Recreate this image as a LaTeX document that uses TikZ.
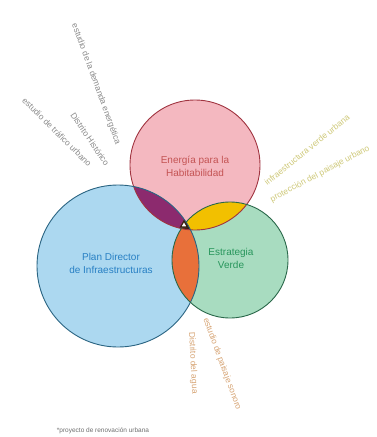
\documentclass[tikz,border=0pt]{standalone}
\usepackage{fontspec}
\setmainfont{Liberation Sans}
\definecolor{enfill}{RGB}{244,184,192}
\definecolor{enline}{RGB}{160,52,64}
\definecolor{entext}{RGB}{196,84,84}
\definecolor{pdfill}{RGB}{172,216,240}
\definecolor{pdline}{RGB}{42,100,130}
\definecolor{pdtext}{RGB}{40,128,196}
\definecolor{evfill}{RGB}{168,220,192}
\definecolor{evline}{RGB}{42,104,74}
\definecolor{evtext}{RGB}{40,150,92}
\definecolor{lensEP}{RGB}{140,42,110}
\definecolor{lensEV}{RGB}{242,192,0}
\definecolor{lensPV}{RGB}{232,112,58}
\definecolor{lensAll}{RGB}{58,32,16}
\definecolor{notegray}{RGB}{138,138,138}
\definecolor{noteyellow}{RGB}{206,200,120}
\definecolor{notetan}{RGB}{214,164,116}
\usetikzlibrary{shapes.geometric}

\begin{document}
\begin{tikzpicture}[
  x=1pt,y=1pt,
  setlbl/.style={font=\fontsize{10}{13}\selectfont,align=center},
  note/.style={font=\fontsize{8.5}{10}\selectfont,inner sep=0pt},
  ring/.style={line width=0.9pt}
]
  \useasboundingbox (0,0) rectangle (377,-437);
  \coordinate (cE) at (195,-165);
  \coordinate (cP) at (118,-266);
  \coordinate (cV) at (230,-260);
  % Sets
  \fill[enfill] (cE) circle[radius=65];
  \fill[pdfill] (cP) circle[radius=81];
  \fill[evfill] (cV) circle[radius=58];
  % Overlaps
  \begin{scope}
    \clip (cE) circle[radius=65];
    \fill[lensEP] (cP) circle[radius=81];
    \fill[lensEV] (cV) circle[radius=58];
  \end{scope}
  \begin{scope}
    \clip (cP) circle[radius=81];
    \fill[lensPV] (cV) circle[radius=58];
    \clip (cV) circle[radius=58];
    \fill[lensAll] (cE) circle[radius=65];
  \end{scope}
  \draw[ring,enline] (cE) circle[radius=65];
  \draw[ring,pdline] (cP) circle[radius=81];
  \draw[ring,evline] (cV) circle[radius=58];
  \node[regular polygon,regular polygon sides=3,draw=lensAll,fill=white,
    line width=1.2pt,minimum size=8pt,inner sep=0pt] (tri) at (184,-225) {};
  % Labels
  \node[setlbl,entext] (energia) at (195,-166) {Energía para la\\Habitabilidad};
  \node[setlbl,pdtext] (plan) at (111,-263) {Plan Director\\de Infraestructuras};
  \node[setlbl,evtext] (verde) at (231,-258) {Estrategia\\Verde};
  % Notes
  \node[note,notegray,rotate=-70] (demanda) at (96,-84) {estudio de la demanda energética};
  \node[note,notegray,rotate=-56] (historico) at (90,-139) {Distrito Histórico};
  \node[note,notegray,rotate=-45] (trafico) at (57,-132) {estudio de tráfico urbano};
  \node[note,noteyellow,rotate=39] (infra) at (307,-150) {infraestructura verde urbana};
  \node[note,noteyellow,rotate=28] (paisaje) at (320,-174) {protección del paisaje urbano};
  \node[note,notetan,rotate=-87] (agua) at (193,-363) {Distrito del agua};
  \node[note,notetan,rotate=-70] (sonoro) at (222,-364) {estudio de paisaje sonoro};
  \node[font=\fontsize{6.5}{8}\selectfont,notegray!80!black] (pie) at (103,-431) {*proyecto de renovación urbana};
\end{tikzpicture}
\end{document}
